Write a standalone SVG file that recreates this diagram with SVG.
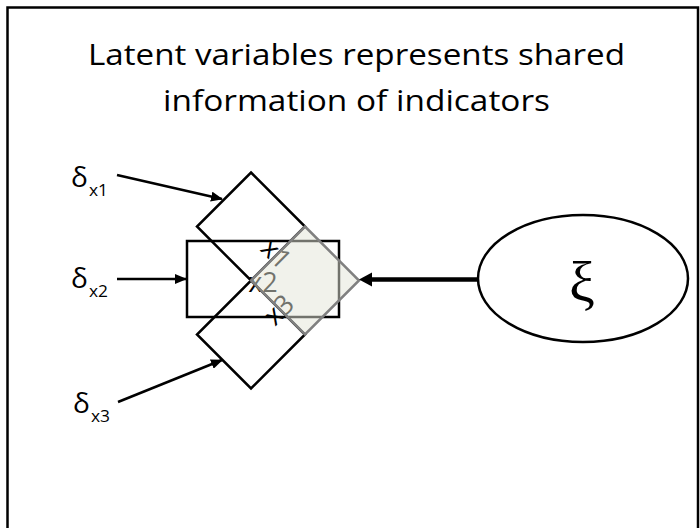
<svg xmlns="http://www.w3.org/2000/svg" width="700" height="528" viewBox="0 0 700 528">
  <style>
    .t { font-family: "Open Sans", "Liberation Sans", sans-serif; fill: #000; }
    .shape { fill: none; stroke: #000; stroke-width: 2.5; }
    .thin { stroke: #000; stroke-width: 2.5; fill: none; }
  </style>
  <defs>
    <marker id="ah" markerUnits="userSpaceOnUse" markerWidth="12" markerHeight="10" refX="11" refY="5" orient="auto">
      <path d="M0,0 L12,5 L0,10 Z" fill="#000"/>
    </marker>
  </defs>
  <rect x="0" y="0" width="700" height="528" fill="#fff"/>
  <rect x="7.5" y="7.5" width="690.5" height="540" fill="none" stroke="#000" stroke-width="2.5"/>

  <g id="title">
    <text class="t" x="356.5" y="65" font-size="30" text-anchor="middle" textLength="537" lengthAdjust="spacingAndGlyphs">Latent variables represents shared</text>
    <text class="t" x="356.5" y="111" font-size="30" text-anchor="middle" textLength="387" lengthAdjust="spacingAndGlyphs">information of indicators</text>
  </g>

  <g id="x2-rect">
    <rect class="shape" x="187" y="241" width="152" height="76"/>
  </g>
  <g id="x1-diamond">
    <polygon class="shape" points="251,172.5 305,226.5 251,280.5 197,226.5"/>
  </g>
  <g id="x3-diamond">
    <polygon class="shape" points="251,280.5 305,334.5 251,388.5 197,334.5"/>
  </g>

  <g id="indicator-labels">
    <text class="t" font-size="27" text-anchor="middle" transform="translate(276,254) rotate(45)" dy="9">x1</text>
    <text class="t" font-size="27" text-anchor="middle" x="263" y="292">x2</text>
    <text class="t" font-size="27" text-anchor="middle" transform="translate(279,310) rotate(-45)" dy="9">x3</text>
  </g>

  <g id="shared">
    <polygon points="305,226.5 359,280.5 305,334.5 251,280.5" fill="#e4e6d8" fill-opacity="0.5" stroke="#808080" stroke-width="2.5"/>
  </g>

  <g id="xi">
    <ellipse cx="583" cy="278.5" rx="105" ry="63.5" fill="#fff" stroke="#000" stroke-width="2.5"/>
    <text x="582" y="301" font-family="'Liberation Serif', 'DejaVu Serif', serif" font-size="58" text-anchor="middle">ξ</text>
  </g>

  <g id="delta1">
    <text class="t" x="71" y="187" font-size="28">δ</text>
    <text class="t" x="89" y="196" font-size="17" textLength="19" lengthAdjust="spacingAndGlyphs">x1</text>
  </g>
  <g id="delta2">
    <text class="t" x="71" y="288" font-size="28">δ</text>
    <text class="t" x="89" y="297" font-size="17" textLength="19" lengthAdjust="spacingAndGlyphs">x2</text>
  </g>
  <g id="delta3">
    <text class="t" x="73" y="413" font-size="28">δ</text>
    <text class="t" x="91" y="422" font-size="17" textLength="19" lengthAdjust="spacingAndGlyphs">x3</text>
  </g>

  <g id="connectors">
    <line class="thin" x1="117" y1="175" x2="222" y2="199" marker-end="url(#ah)"/>
    <line class="thin" x1="117" y1="279" x2="186" y2="279" marker-end="url(#ah)"/>
    <line class="thin" x1="118" y1="402" x2="222" y2="360" marker-end="url(#ah)"/>
    <line x1="478" y1="279.5" x2="368" y2="279.5" stroke="#000" stroke-width="4.5"/>
    <polygon points="359,279.5 372,272.5 372,286.5" fill="#000"/>
  </g>
</svg>
